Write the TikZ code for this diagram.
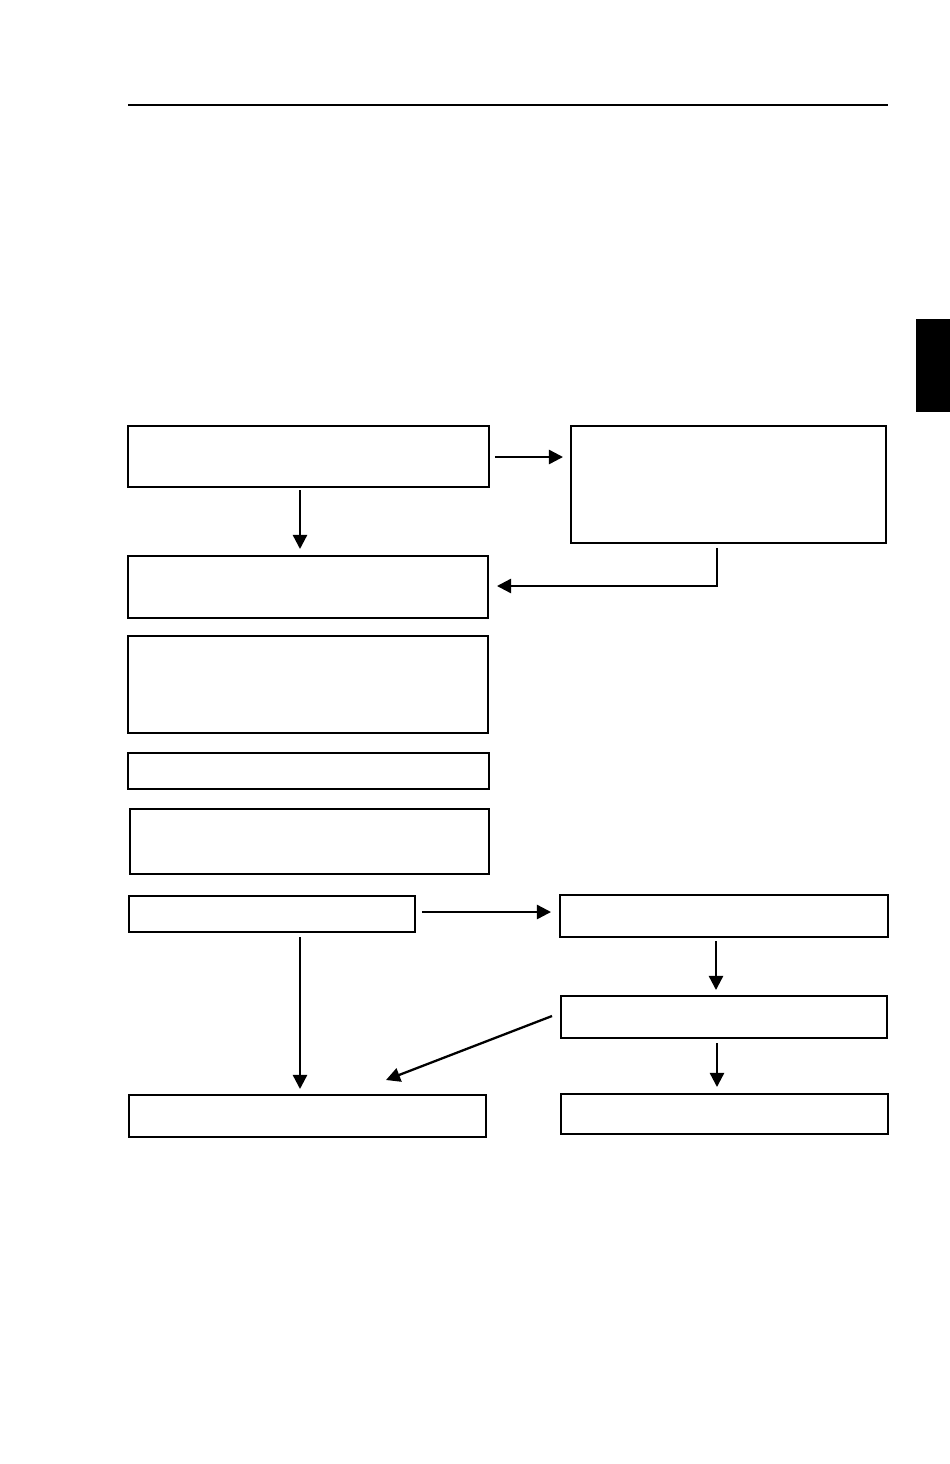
\documentclass[tikz,border=0pt]{standalone}
\usetikzlibrary{calc,arrows.meta}

\tikzset{
  box/.style = {draw, line width=0.8pt, inner sep=0pt, outer sep=0pt},
  arr/.style = {line width=1.3pt, -{Triangle[length=8pt,width=8pt]}}
}

\begin{document}
\begin{tikzpicture}[x=0.02cm, y=-0.02cm]
    \useasboundingbox (0,0) rectangle (950,1464);

    % page header and thumb tab
    \draw [line width=0.8pt] (128,105) -- (888,105);
    \fill (916,319) rectangle (950,412);

    % boxes
    \node [box, minimum width=7.22cm, minimum height=1.22cm] (start) at (308.5,456.5) {};
    \node [box, minimum width=6.30cm, minimum height=2.34cm] (side) at (728.5,484.5) {};
    \node [box, minimum width=7.20cm, minimum height=1.24cm] (stepa) at (308,587) {};
    \node [box, minimum width=7.20cm, minimum height=1.94cm] (stepb) at (308,684.5) {};
    \node [box, minimum width=7.22cm, minimum height=0.72cm] (stepc) at (308.5,771) {};
    \node [box, minimum width=7.18cm, minimum height=1.30cm] (stepd) at (309.5,841.5) {};
    \node [box, minimum width=5.72cm, minimum height=0.72cm] (check) at (272,914) {};
    \node [box, minimum width=6.56cm, minimum height=0.84cm] (fixa) at (724,916) {};
    \node [box, minimum width=6.52cm, minimum height=0.84cm] (fixb) at (724,1017) {};
    \node [box, minimum width=7.14cm, minimum height=0.84cm] (done) at (307.5,1116) {};
    \node [box, minimum width=6.54cm, minimum height=0.80cm] (fail) at (724.5,1114) {};

    % connectors
    \draw [arr] ($(start.east)+(6,0.5)$) -- ($(start.east -| side.west)+(-8,0.5)$);
    \draw [arr] ($(start.south)+(-8.5,3)$) -- ($(stepa.north)+(-8,-7)$);
    \draw [arr] ($(side.south)+(-11.5,5)$) |- ($(stepa.east)+(9,-1)$);
    \draw [arr] ($(check.east)+(7,-2)$) -- ($(check.east -| fixa.west)+(-9,-2)$);
    \draw [arr] ($(check.south)+(28,5)$) -- ($(done.north)+(-7.5,-6)$);
    \draw [arr] ($(fixa.south)+(-8,4)$) -- ($(fixb.north)+(-8,-6)$);
    \draw [arr] ($(fixb.west)+(-9,-1)$) -- ($(done.north)+(78.5,-15)$);
    \draw [arr] ($(fixb.south)+(-7,5)$) -- ($(fail.north)+(-7.5,-7)$);
\end{tikzpicture}
\end{document}
